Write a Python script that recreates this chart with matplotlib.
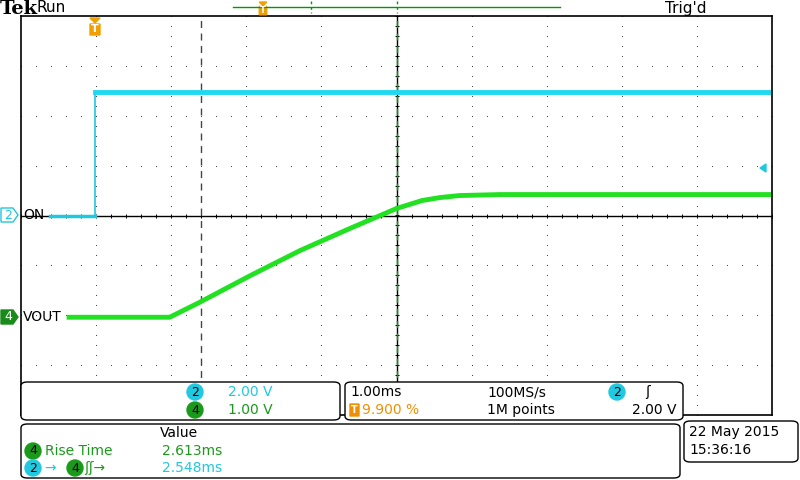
import matplotlib
matplotlib.use("Agg")
import matplotlib.pyplot as plt
import numpy as np
from matplotlib.patches import FancyBboxPatch, Ellipse, Polygon

W, H = 800, 480
# time (ms relative to trigger), ch2 volts
ch2_t = [-0.61, 0.0, 0.0, 9.01]
ch2_v = [0.0, 0.0, 4.96, 4.96]
# ch4 (VOUT) volts
ch4_t = [-0.35, 0.99, 1.39, 2.07, 2.73, 3.39, 4.01, 4.35, 4.59, 4.85, 5.39, 9.01]
ch4_v = [0.0, 0.0, 0.30, 0.84, 1.34, 1.78, 2.18, 2.34, 2.40, 2.44, 2.46, 2.46]
trig_pos = 0.99           # divisions from left
ch2_scale, ch4_scale = 2.0, 1.0
ch4_offset = -2.04        # divisions

fig = plt.figure(figsize=(8, 4.8), dpi=100)
fig.patch.set_facecolor("white")
def fx(x): return x / W
def fy(y): return 1 - y / H

L, R, T, B = 21, 772, 16, 415
ax = fig.add_axes([fx(L), fy(B), fx(R) - fx(L), fy(T) - fy(B)])
ax.set_xlim(0, 10); ax.set_ylim(-4, 4)
ax.set_xticks([]); ax.set_yticks([])
for s in ax.spines.values():
    s.set_color("black"); s.set_linewidth(1.2)

# dotted graticule
for i in range(1, 10):
    ys = np.arange(-4, 4.01, 0.2)
    ax.plot(np.full_like(ys, i), ys, ls="none", marker="s", ms=0.6, mew=0, color="#333333")
for j in range(-3, 4):
    xs = np.arange(0, 10.01, 0.2)
    ax.plot(xs, np.full_like(xs, j), ls="none", marker="s", ms=0.6, mew=0, color="#333333")
ax.axhline(0, color="black", lw=1)
ax.axvline(5, color="black", lw=1)
tk = np.arange(0, 10.01, 0.2)
ax.plot(tk, np.zeros_like(tk), ls="none", marker="|", ms=3, color="black", mew=0.7)
tk = np.arange(-4, 4.01, 0.2)
ax.plot(np.full_like(tk, 5), tk, ls="none", marker="_", ms=3, color="black", mew=0.7)

# cursors
ax.axvline(2.4, color="#444444", lw=1, ls=(0, (5, 4)))
ax.axvline(5.0, color="#009900", lw=1, ls=(0, (5, 4)))

x2 = np.array(ch2_t) + trig_pos
ax.plot(x2[:2], np.array(ch2_v[:2]) / ch2_scale, color="#1ec8e0", lw=2.5)
ax.plot(x2[1:], np.array(ch2_v[1:]) / ch2_scale, color="#1ec8e0", lw=1.2)
ax.plot(x2[2:], np.array(ch2_v[2:]) / ch2_scale, color="#20d8f0", lw=3.5)
x4 = np.array(ch4_t) + trig_pos
ax.plot(x4, np.array(ch4_v) / ch4_scale + ch4_offset, color="#22e022", lw=3.5)

# top bar
fig.text(fx(0), fy(9), "Tek", fontsize=14, fontweight="bold", family="DejaVu Serif", va="center")
fig.text(fx(36), fy(8), "Run", fontsize=11, va="center")
fig.text(fx(665), fy(8), "Trig'd", fontsize=11, va="center")
fig.add_artist(plt.Line2D([fx(233), fx(560)], [fy(7), fy(7)], color="#009900", lw=1))
for xx in (311, 397):
    fig.add_artist(plt.Line2D([fx(xx), fx(xx)], [fy(1), fy(13)], color="#009900", lw=1, ls=(0, (2, 2))))
def tmark(x, y, s=1.0):
    fig.add_artist(Polygon([[fx(x-5*s), fy(y-8*s)], [fx(x+5*s), fy(y-8*s)], [fx(x), fy(y-3*s)]],
                           closed=True, color="#f0a000"))
    fig.add_artist(FancyBboxPatch((fx(x-5*s), fy(y+9*s)), fx(10*s), fy(0)-fy(11*s),
                                  boxstyle="round,pad=0", color="#f0a000"))
    fig.text(fx(x), fy(y+3.5*s), "T", color="white", fontsize=8*s, ha="center", va="center", fontweight="bold")
tmark(95, 26); tmark(263, 8, 0.75)
fig.add_artist(Polygon([[fx(760), fy(168)], [fx(766), fy(164)], [fx(766), fy(172)]], closed=True, color="#1ec8e0"))

# channel markers
def chmark(y, n, fc, ec, tc):
    fig.add_artist(Polygon([[fx(1), fy(y-7)], [fx(13), fy(y-7)], [fx(18), fy(y)], [fx(13), fy(y+7)], [fx(1), fy(y+7)]],
                           closed=True, fc=fc, ec=ec, lw=1))
    fig.text(fx(8), fy(y), n, color=tc, fontsize=9, ha="center", va="center")
chmark(215, "2", "white", "#1ec8e0", "#1ec8e0")
chmark(317, "4", "#1a8a1a", "#1a8a1a", "white")
fig.text(fx(23), fy(215), "ON", fontsize=10, va="center")
fig.text(fx(23), fy(317), "VOUT", fontsize=10, va="center")

# boxes
def box(x0, y0, x1, y1):
    fig.add_artist(FancyBboxPatch((fx(x0), fy(y1)), fx(x1-x0), fy(y0)-fy(y1),
                                  boxstyle="round,pad=0,rounding_size=0.008", fc="white", ec="black", lw=1, zorder=5))
box(21, 382, 340, 420); box(345, 382, 683, 420); box(21, 424, 680, 478); box(684, 421, 798, 462)
def badge(x, y, n, c, tc):
    fig.add_artist(Ellipse((fx(x), fy(y)), fx(16), fy(0)-fy(16), fc=c, ec=c, zorder=6))
    fig.text(fx(x), fy(y), n, color=tc, fontsize=9, ha="center", va="center", zorder=7)
CY, GR, OR = "#20c8e0", "#1a9a1a", "#f09000"
fs = 10
def t(x, y, s, c="black", ha="left"):
    fig.text(fx(x), fy(y), s, color=c, fontsize=fs, va="center", ha=ha, zorder=7)
badge(195, 392, "2", CY, "black"); t(228, 392, "2.00 V", CY)
badge(195, 410, "4", GR, "black"); t(228, 410, "1.00 V", GR)
t(350, 392, "1.00ms"); t(487, 392, "100MS/s"); badge(617, 392, "2", CY, "black"); t(645, 392, "ʃ")
fig.add_artist(FancyBboxPatch((fx(350), fy(416)), fx(9), fy(0)-fy(12), boxstyle="round,pad=0", fc=OR, ec=OR, zorder=6))
fig.text(fx(354.5), fy(410), "T", color="white", fontsize=7, ha="center", va="center", zorder=7, fontweight="bold")
t(362, 410, "9.900 %", OR); t(487, 410, "1M points"); t(677, 410, "2.00 V", ha="right")
t(160, 433, "Value")
badge(33, 451, "4", GR, "black"); t(45, 451, "Rise Time", GR); t(162, 451, "2.613ms", GR)
badge(33, 468, "2", CY, "black"); t(44, 468, "→", CY)
badge(75, 468, "4", GR, "black"); t(84, 468, "ʃʃ→", GR); t(162, 468, "2.548ms", CY)
t(689, 432, "22 May 2015"); t(689, 450, "15:36:16")

fig.savefig("out.png", dpi=100)
